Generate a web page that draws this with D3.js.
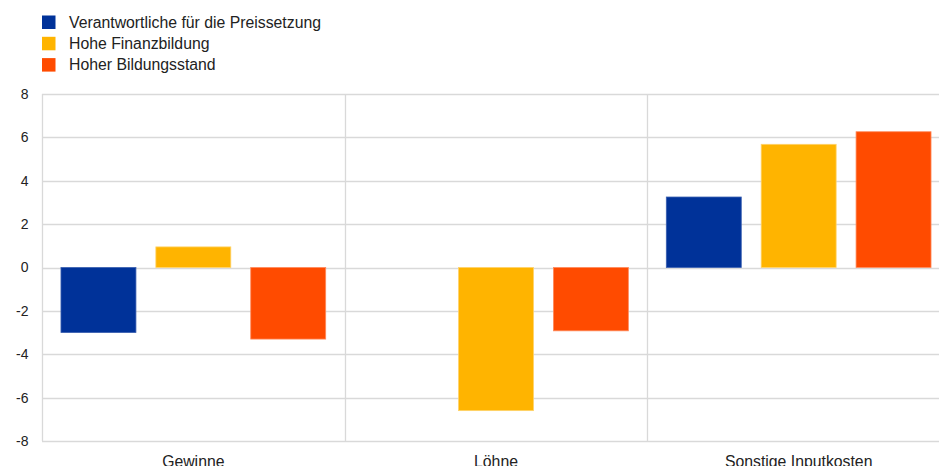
<!DOCTYPE html>
<html>
<head>
<meta charset="utf-8">
<script src="https://cdn.jsdelivr.net/npm/d3@7"></script>
<style>
  html, body { margin: 0; padding: 0; background: #fff; }
  svg { display: block; font-family: "Liberation Sans", Arial, sans-serif; }
</style>
</head>
<body>
<svg id="chart" width="939" height="466"></svg>
<script>
// Categories, series and axis ticks
const categories = ["Gewinne", "Löhne", "Sonstige Inputkosten"];
const seriesNames = ["Verantwortliche für die Preissetzung", "Hohe Finanzbildung", "Hoher Bildungsstand"];
const pricingResponsible = [-3.0, 0, 3.25];
const highFinancialLiteracy = [0.95, -6.6, 5.68];
const highEducation = [-3.3, -2.92, 6.26];
const yTicks = [-8, -6, -4, -2, 0, 2, 4, 6, 8];
const colors = ["#003299", "#FFB400", "#FF4B00"];
const strokes = ["#3a5fb0", "#ffd36a", "#ff8a5c"];

const series = [pricingResponsible, highFinancialLiteracy, highEducation];

const svg = d3.select("#chart");
const margin = { left: 42, right: -11 };
const W = 939;
const plotW = W - margin.left - margin.right;
const y = d3.scaleLinear().domain([-8, 8]).range([441, 94]);

const x0 = d3.scaleBand().domain(categories).range([margin.left, margin.left + plotW]);
const x1 = d3.scaleBand().domain(d3.range(series.length))
  .range([0, x0.bandwidth()]).paddingInner(0.21).paddingOuter(0.2);

const grid = svg.append("g");
// horizontal grid lines
grid.selectAll("line.h").data(yTicks).join("line")
  .attr("x1", margin.left).attr("x2", W)
  .attr("y1", d => Math.round(y(d)) + 0.5).attr("y2", d => Math.round(y(d)) + 0.5)
  .attr("stroke", "#d9d9d9").attr("stroke-width", 1.3);
// vertical separators at category boundaries
const bounds = categories.map(c => x0(c));
grid.selectAll("line.v").data(bounds).join("line")
  .attr("x1", d => Math.round(d) + 0.5).attr("x2", d => Math.round(d) + 0.5)
  .attr("y1", y(8)).attr("y2", y(-8))
  .attr("stroke", "#d9d9d9").attr("stroke-width", 1.3);

// y tick labels
svg.append("g").selectAll("text").data(yTicks).join("text")
  .attr("x", 28.5).attr("y", d => y(d)).attr("dy", "0.35em")
  .attr("text-anchor", "end").attr("font-size", 14).attr("fill", "#222")
  .text(d => d);

// bars
const rows = [];
series.forEach((vals, s) => vals.forEach((v, i) => rows.push({ s, cat: categories[i], v })));
svg.append("g").selectAll("rect").data(rows.filter(d => d.v !== 0)).join("rect")
  .attr("x", d => x0(d.cat) + x1(d.s))
  .attr("width", x1.bandwidth())
  .attr("y", d => y(Math.max(0, d.v)))
  .attr("height", d => Math.abs(y(d.v) - y(0)))
  .attr("fill", d => colors[d.s])
  .attr("stroke", d => strokes[d.s]).attr("stroke-width", 0.8);

// category labels
svg.append("g").selectAll("text").data(categories).join("text")
  .attr("x", d => x0(d) + x0.bandwidth() / 2).attr("y", 466.5)
  .attr("text-anchor", "middle").attr("font-size", 15.8).attr("fill", "#222")
  .text(d => d);

// legend
const lg = svg.append("g").selectAll("g").data(seriesNames).join("g")
  .attr("transform", (d, i) => `translate(42, ${15.5 + i * 21.3})`);
lg.append("rect").attr("width", 13.5).attr("height", 13.5).attr("fill", (d, i) => colors[i]);
lg.append("text").attr("x", 27).attr("y", 6.8).attr("dy", "0.35em")
  .attr("font-size", 15.8).attr("fill", "#222").text(d => d);
</script>
</body>
</html>
